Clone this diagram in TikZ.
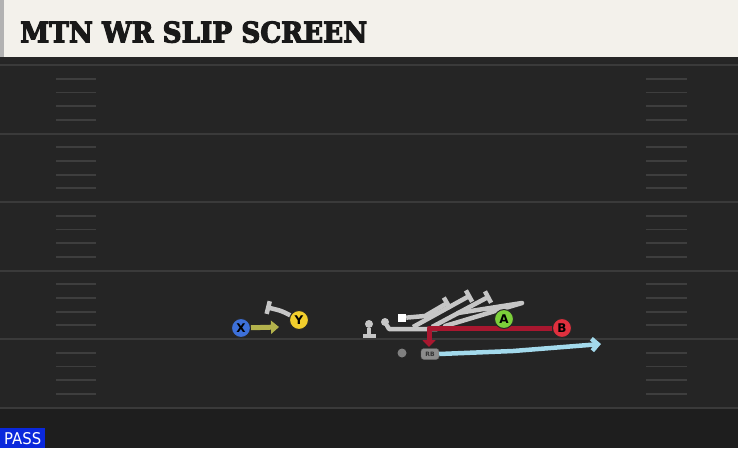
\documentclass[tikz,border=0pt]{standalone}
\usepackage{fontspec}
\setmainfont{DejaVu Sans}
\newfontfamily\titlefont{DejaVu Serif}[BoldFeatures={FakeBold=4}]
\usetikzlibrary{arrows.meta}
\definecolor{turf}{HTML}{252525}
\definecolor{turfdark}{HTML}{1E1E1E}
\definecolor{yardline}{HTML}{3A3A3A}
\definecolor{hashmark}{HTML}{3E3E3E}
\definecolor{banner}{HTML}{F3F1EB}
\definecolor{xblue}{HTML}{3D70D9}
\definecolor{yyellow}{HTML}{F2CE2C}
\definecolor{agreen}{HTML}{7CD03A}
\definecolor{bred}{HTML}{E0303E}
\definecolor{xroute}{HTML}{B3B24C}
\definecolor{broute}{HTML}{A8172F}
\definecolor{rbroute}{HTML}{A3DAEC}
\definecolor{lgray}{HTML}{C6C6C6}
\definecolor{passblue}{HTML}{0A28DC}
\tikzset{
  player/.style={circle, draw=black!85, line width=1pt, minimum size=19pt, inner sep=0pt, font=\bfseries\large},
  lineman/.style={circle, fill=lgray, minimum size=8pt, inner sep=0pt},
  block/.style={draw=lgray, line width=4.5pt, line cap=round, line join=round},
  blockend/.style={block, line cap=butt, -{Bar[width=13pt]}},
  route/.style={line width=5pt, line join=round}
}
\begin{document}
\begin{tikzpicture}[x=1pt, y=-1pt]
  \useasboundingbox (0,0) rectangle (738,448);
  \fill[turf] (0,58) rectangle (738,448);
  \fill[turfdark] (0,408) rectangle (738,448);
  \foreach \k in {0,...,5}
    \draw[yardline, line width=2pt] (0,65+68.5*\k) -- (738,65+68.5*\k);
  \foreach \k in {1,...,24} {
    \pgfmathtruncatemacro{\m}{mod(\k,5)}
    \ifnum\m>0
      \draw[hashmark, line width=1.8pt] (56,65+13.7*\k) -- (96,65+13.7*\k);
      \draw[hashmark, line width=1.8pt] (646,65+13.7*\k) -- (687,65+13.7*\k);
    \fi
  }
  \fill[black!85] (0,56) rectangle (738,62);
  \fill[banner] (4,0) rectangle (738,57);
  \fill[black!30] (0,0) rectangle (4,57);
  \node[anchor=south west, inner sep=0pt, text=black!90] (title) at (20,43)
    {\resizebox{347pt}{21pt}{\titlefont\bfseries MTN WR SLIP SCREEN}};

  \node[player, fill=xblue] (X) at (241,328) {X};
  \node[player, fill=yyellow] (Y) at (299,320) {Y};
  \node[player, fill=bred] (B) at (562,328) {B};
  \node[draw=black!60, fill=black!45, rounded corners=3pt, minimum width=18pt, minimum height=11pt,
        inner sep=0pt, font=\bfseries\fontsize{6}{6}\selectfont, text=black!80] (RB) at (430,354) {RB};
  \node[circle, fill=black!50, minimum size=9pt, inner sep=0pt] (dot) at (402,353) {};

  \coordinate (xend) at (279,327);
  \draw[route, xroute, -{Triangle[length=8pt, width=13pt]}] (X) -- (xend);
  \coordinate (yend) at (266,307);
  \draw[blockend] (Y) .. controls (282,311) .. (yend);

  \node[lineman] (c1) at (369,324) {};
  \coordinate (c1end) at (369,338);
  \draw[blockend] (c1) -- (c1end);
  \node[lineman] (c2) at (385,322) {};
  \node[fill=white, minimum size=8pt, inner sep=0pt] (qb) at (402,318) {};
  \coordinate (g1) at (437,329);
  \draw[block] (c2) -- (389,329) -- (g1);
  \coordinate (g2) at (449,302);
  \draw[blockend] (qb) -- (425,316) -- (g2);
  \coordinate (g3) at (471,295);
  \draw[blockend] (413,327) -- (g3);
  \coordinate (g4) at (490,296);
  \draw[blockend] (432,327) -- (g4);
  \coordinate (g5) at (458,313);
  \draw[block] (445,326) -- (522,303) -- (g5);

  \coordinate (bturn) at (429,328);
  \coordinate (bend) at (429,347);
  \draw[route, broute, -{Triangle[length=7pt, width=13pt]}] (B.west) -- (bturn) -- (bend);
  \coordinate (rbend) at (601,344);
  \draw[route, rbroute, line width=4.5pt, -{Straight Barb[length=6pt, width=12pt]}]
    (RB.east) -- (513,351) -- (rbend);
  \node[player, fill=agreen] (A) at (504,319) {A};

  \fill[passblue] (0,428) rectangle (45,448);
  \node[anchor=south west, inner sep=0pt, text=white] (pass) at (4,445)
    {\resizebox{37pt}{12pt}{PASS}};
\end{tikzpicture}
\end{document}
